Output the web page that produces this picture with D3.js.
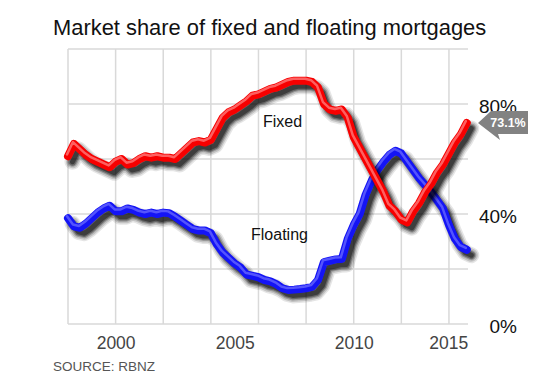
<!DOCTYPE html>
<html>
<head>
<meta charset="utf-8">
<script src="https://cdn.jsdelivr.net/npm/d3@7"></script>
<style>
  body { margin: 0; background: #fff; }
  svg { font-family: "Liberation Sans", Arial, sans-serif; display: block; }
</style>
</head>
<body>
<svg width="550" height="375"></svg>
<script>
// quarterly points, 1998 Q1 .. 2014 Q4
let quarters = d3.range(68).map(i => 1998 + i * 0.25);

let fixed = [
  61, 65.5, 63.5, 61.5, 60, 59, 58, 57,
  59, 60, 58, 58.5, 60, 61, 60.5, 61,
  60.5, 60.5, 60, 62, 64, 66, 66.5, 66,
  67, 71, 75, 77, 78, 79.5, 81, 83,
  83.5, 84.5, 85.5, 86, 87, 88, 88.5, 88.5,
  88.5, 88, 86, 80, 78, 77.5, 78, 75,
  68, 64, 60, 56, 52, 48, 43, 41,
  38, 37, 41, 44, 48, 51, 55, 58,
  62, 66, 69, 73.1
];

let floating = [
  38.5, 35.5, 35, 36.5, 38.5, 40.5, 42, 43,
  41, 41, 42, 41.5, 40.5, 40, 40.5, 40,
  40.5, 40.3, 39, 37.5, 36, 34.5, 34, 34,
  33, 29, 26, 24, 22, 20.5, 18, 17.5,
  17, 16, 15.5, 14.5, 13, 12.4, 12.5, 12.7,
  13, 13.5, 16, 22.5, 23, 23.5, 23.6, 31,
  36, 40, 47, 52, 56, 59, 61.5, 63,
  62, 59, 56, 53, 50.5, 48, 45, 42,
  36, 31, 28, 27
];

let xTicks = [2000, 2005, 2010, 2015];
let yTicks = [0, 40, 80];
let xGrid = d3.range(1998, 2015, 2);
let yGrid = d3.range(0, 101, 20);

let svg = d3.select("svg");
let plotLeft = 68, plotRight = 468, plotTop = 49, plotBottom = 324;

let x = d3.scaleLinear().domain([1998, 2014.8]).range([plotLeft, plotRight]);
let y = d3.scaleLinear().domain([0, 100]).range([plotBottom, plotTop]);

svg.append("text")
  .attr("x", 53).attr("y", 35)
  .attr("font-size", 21.9)
  .attr("fill", "#111")
  .text("Market share of fixed and floating mortgages");

let grid = svg.append("g").attr("stroke", "#d9d9d9").attr("stroke-width", 1.5);
grid.selectAll(".v").data(xGrid).join("line")
  .attr("x1", d => x(d)).attr("x2", d => x(d))
  .attr("y1", plotTop).attr("y2", plotBottom);
grid.selectAll(".h").data(yGrid).join("line")
  .attr("x1", plotLeft).attr("x2", plotRight)
  .attr("y1", d => y(d)).attr("y2", d => y(d));

// x axis labels
let xAxis = svg.append("g")
  .attr("transform", "translate(0," + plotBottom + ")")
  .call(d3.axisBottom(x).tickValues(xTicks).tickFormat(d3.format("d")).tickSize(0).tickPadding(8));
xAxis.select(".domain").remove();
xAxis.selectAll("text")
  .attr("font-size", 17.5).attr("fill", "#444").attr("font-family", null)
  .attr("dy", "0.95em");
xAxis.selectAll("text").filter(d => d === 2015)
  .attr("text-anchor", "end").attr("dx", -5);

// y axis labels on the right
let yAxis = svg.append("g")
  .attr("transform", "translate(517,0)")
  .call(d3.axisRight(y).tickValues(yTicks).tickFormat(d => d + "%").tickSize(0).tickPadding(0));
yAxis.select(".domain").remove();
yAxis.selectAll("text")
  .attr("font-size", 19).attr("fill", "#111").attr("font-family", null)
  .attr("text-anchor", "end").attr("dy", "0.45em");

let line = d3.line().x((d, i) => x(quarters[i])).y(d => y(d));

// soft shadow made of stacked translucent strokes
let shadowLayers = [[16, 0.1], [13, 0.15], [10, 0.22], [7.5, 0.32], [5, 0.4]];

const drawTube = (values, color, light) => {
  let sh = svg.append("g").attr("transform", "translate(4.5,5.5)");
  shadowLayers.forEach(([w, o]) => {
    sh.append("path").datum(values)
      .attr("d", line).attr("fill", "none")
      .attr("stroke", "#000").attr("stroke-opacity", o)
      .attr("stroke-width", w).attr("stroke-linejoin", "round").attr("stroke-linecap", "round");
  });
  svg.append("path").datum(values)
    .attr("d", line).attr("fill", "none")
    .attr("stroke", color).attr("stroke-width", 8)
    .attr("stroke-linejoin", "round").attr("stroke-linecap", "round");
  svg.append("path").datum(values)
    .attr("d", line).attr("fill", "none")
    .attr("stroke", light).attr("stroke-width", 2.5).attr("stroke-opacity", 0.75)
    .attr("stroke-linejoin", "round").attr("stroke-linecap", "round")
    .attr("transform", "translate(-1,-1.8)");
}

drawTube(floating, "#1414f5", "#6a6aff");
drawTube(fixed, "#f70000", "#ff8080");

svg.append("text").attr("x", 263).attr("y", 127)
  .attr("font-size", 16).attr("fill", "#111").text("Fixed");
svg.append("text").attr("x", 251).attr("y", 240)
  .attr("font-size", 16).attr("fill", "#111").text("Floating");

// latest value tag
let last = fixed[fixed.length - 1];
let ty = y(last);
svg.append("path")
  .attr("d", "M478," + ty + "L491," + (ty - 12) + "L528," + (ty - 12) + "L528," + (ty + 11)
    + "L498," + (ty + 11) + "L500," + (ty + 17) + "Z")
  .attr("fill", "#828282");
svg.append("text").attr("x", 508).attr("y", ty + 4.5)
  .attr("text-anchor", "middle").attr("font-size", 12.5).attr("font-weight", "bold")
  .attr("fill", "#fff").text(last + "%");

svg.append("text").attr("x", 53).attr("y", 371)
  .attr("font-size", 13.5).attr("fill", "#555").text("SOURCE: RBNZ");
</script>
</body>
</html>
